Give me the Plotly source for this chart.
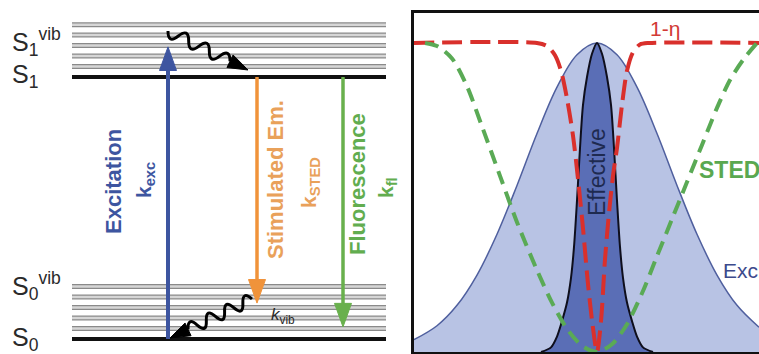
import plotly.graph_objects as go

W, H = 759, 354

# ---------------- Jablonski diagram data (energy, arbitrary units) ----------------
S0_level = 0.0
S1_level = 10.0
vib_offsets = [0.4, 0.8, 1.2, 1.6, 2.0]

# transitions: from energy, to energy
exc_from, exc_to = 0.0, 11.15
sted_from, sted_to = 10.0, 1.37
fl_from, fl_to = 10.0, 0.46

# ---------------- STED profiles (position, normalised intensity) ----------------
x_exc = [-1.83, -1.6, -1.4, -1.2, -1.0, -0.8, -0.6, -0.4, -0.2, 0.0,
         0.2, 0.4, 0.6, 0.8, 1.0, 1.2, 1.4, 1.62]
y_exc = [0.04, 0.085, 0.151, 0.249, 0.381, 0.539, 0.707, 0.857, 0.962, 1.0,
         0.962, 0.857, 0.707, 0.539, 0.381, 0.249, 0.151, 0.08]

x_eff = [-0.56, -0.46, -0.4, -0.35, -0.3, -0.26, -0.23, -0.2, -0.17, -0.14, -0.1, -0.05, 0.0,
         0.05, 0.1, 0.14, 0.17, 0.2, 0.23, 0.26, 0.3, 0.35, 0.4, 0.46, 0.56]
y_eff = [0.0, 0.015, 0.05, 0.1, 0.16, 0.24, 0.34, 0.49, 0.66, 0.8, 0.89, 0.965, 1.0,
         0.965, 0.89, 0.8, 0.66, 0.49, 0.34, 0.24, 0.16, 0.1, 0.05, 0.015, 0.0]

x_eta = [-1.83, -0.6, -0.5, -0.42, -0.36, -0.3, -0.24, -0.19, -0.14, -0.09, -0.045, 0.0,
         0.04, 0.08, 0.12, 0.16, 0.2, 0.25, 0.3, 0.36, 0.43, 0.52, 1.62]
y_eta = [1.0, 1.0, 0.99, 0.96, 0.91, 0.82, 0.7, 0.56, 0.4, 0.22, 0.09, 0.0,
         0.1, 0.3, 0.45, 0.57, 0.66, 0.8, 0.91, 0.97, 0.995, 1.0, 1.0]

x_sted = [-1.72, -1.6, -1.45, -1.3, -1.15, -0.97, -0.8, -0.6, -0.45, -0.3, -0.15, 0.0,
          0.15, 0.3, 0.45, 0.6, 0.75, 0.9, 1.05, 1.2, 1.33, 1.46, 1.6]
y_sted = [1.0, 0.99, 0.95, 0.86, 0.73, 0.57, 0.42, 0.265, 0.16, 0.075, 0.02, 0.0,
          0.025, 0.09, 0.19, 0.31, 0.43, 0.55, 0.67, 0.79, 0.88, 0.945, 1.0]

FONT = "Liberation Sans, Arial, sans-serif"
BLUE = "#3d55a0"
ORANGE = "#f0933a"
GREEN = "#69b04d"


def P(x, y):
    """pixel -> paper"""
    return x / W, 1 - y / H


fig = go.Figure()
shapes = []
annotations = []

# ---------- left: energy levels ----------
LX0, LX1 = 72, 386
gx, gy = [], []
for base in (S0_level, S1_level):
    for off in vib_offsets:
        gx += [LX0, LX1, None]
        gy += [base + off, base + off, None]
fig.add_trace(go.Scatter(x=gx, y=gy, mode="lines", line=dict(color="#8a8a8a", width=5),
                         hoverinfo="skip", showlegend=False, xaxis="x", yaxis="y"))
fig.add_trace(go.Scatter(x=gx, y=gy, mode="lines", line=dict(color="#d6d6d6", width=2.5),
                         hoverinfo="skip", showlegend=False, xaxis="x", yaxis="y"))
fig.add_trace(go.Scatter(x=[LX0, LX1, None, LX0, LX1],
                         y=[S0_level, S0_level, None, S1_level, S1_level],
                         mode="lines", line=dict(color="#111111", width=4),
                         hoverinfo="skip", showlegend=False, xaxis="x", yaxis="y"))

# straight transition arrows: shaft trace + triangular head
HEAD_E = 0.9   # head length in energy units
HEAD_W = 8.5   # head half width in x units
for xpos, e0, e1, col, w in [(168, exc_from, exc_to, BLUE, 4),
                             (257, sted_from, sted_to, ORANGE, 3.5),
                             (343, fl_from, fl_to, GREEN, 3.5)]:
    sgn = 1 if e1 > e0 else -1
    base = e1 - sgn * HEAD_E
    fig.add_trace(go.Scatter(x=[xpos, xpos], y=[e0, base + sgn * 0.1], mode="lines",
                             line=dict(color=col, width=w), hoverinfo="skip",
                             showlegend=False, xaxis="x", yaxis="y"))
    shapes.append(dict(type="path", xref="x", yref="y",
                       path=f"M {xpos},{e1} L {xpos - HEAD_W},{base} L {xpos + HEAD_W},{base} Z",
                       fillcolor=col, line=dict(color=col, width=1)))

# ---------- right: profiles ----------
fig.add_trace(go.Scatter(x=x_exc, y=y_exc, mode="lines", fill="tozeroy",
                         fillcolor="#b8c3e4", line=dict(color="#4f5f9e", width=1.5, shape="spline"),
                         hoverinfo="skip", showlegend=False, xaxis="x2", yaxis="y2"))
fig.add_trace(go.Scatter(x=x_eff, y=y_eff, mode="lines", fill="tozeroy",
                         fillcolor="#5a6eb6", line=dict(color="#0e0e1c", width=2, shape="spline", smoothing=0.8),
                         hoverinfo="skip", showlegend=False, xaxis="x2", yaxis="y2"))
fig.add_trace(go.Scatter(x=x_eta, y=y_eta, mode="lines",
                         line=dict(color="#d9302c", width=4, dash="20px,8px", shape="spline", smoothing=0.8),
                         hoverinfo="skip", showlegend=False, xaxis="x2", yaxis="y2"))
fig.add_trace(go.Scatter(x=x_sted, y=y_sted, mode="lines",
                         line=dict(color="#5aaa55", width=4, dash="14px,8px", shape="spline", smoothing=0.8),
                         hoverinfo="skip", showlegend=False, xaxis="x2", yaxis="y2"))


# ---------- texts ----------
def txt(text, x, y, size, color, bold=False, angle=0, xanchor="center"):
    px, py = P(x, y)
    t = f"<b>{text}</b>" if bold else text
    annotations.append(dict(text=t, x=px, y=py, xref="paper", yref="paper",
                            showarrow=False, textangle=angle, xanchor=xanchor, yanchor="middle",
                            font=dict(family=FONT, size=size, color=color)))


LAB = "#2a2a2a"
txt("S<sub>1</sub><sup>vib</sup>", 10, 42, 25, LAB, xanchor="left")
txt("S<sub>1</sub>", 10, 76, 25, LAB, xanchor="left")
txt("S<sub>0</sub><sup>vib</sup>", 10, 286, 25, LAB, xanchor="left")
txt("S<sub>0</sub>", 10, 339, 25, LAB, xanchor="left")

txt("Excitation", 113, 182, 22, BLUE, bold=True, angle=-90)
txt("k<sub>exc</sub>", 145, 180, 21, BLUE, bold=True, angle=-90)
txt("Stimulated Em.", 275, 180, 22, "#e9a15a", bold=True, angle=-90)
txt("k<sub>STED</sub>", 310, 183, 21, "#e9a15a", bold=True, angle=-90)
txt("Fluorescence", 357, 184, 22, "#62ad4f", bold=True, angle=-90)
txt("k<sub>fl</sub>", 387, 188, 21, "#62ad4f", bold=True, angle=-90)
txt("<i>k</i><sub>vib</sub>", 269, 316, 17, LAB, xanchor="left")

txt("1-η", 665, 28, 21, "#d23a35")
txt("STED", 697, 170, 23, "#5aa850", bold=True, xanchor="left")
txt("Excitation", 721, 270, 21, "#3c4a8c", xanchor="left")
txt("Effective", 597, 172, 23, "#1e2a50", angle=-90)


# ---------- wavy relaxation arrows ----------
def squiggle(p0, tip, n_half, amp, head_len=20, head_w=7):
    x0, y0 = p0
    tx, ty = tip
    dx, dy = tx - x0, ty - y0
    L = (dx * dx + dy * dy) ** 0.5
    ux, uy = dx / L, dy / L
    nx, ny = -uy, ux
    ex, ey = tx - ux * head_len, ty - uy * head_len
    wl = L - head_len
    path = "M {:.5f},{:.5f}".format(*P(x0, y0))
    for i in range(n_half):
        a = i / n_half * wl
        b = (i + 1) / n_half * wl
        m = (a + b) / 2
        s = 1 if i % 2 == 0 else -1
        cx = x0 + ux * m + nx * 2 * amp * s
        cy = y0 + uy * m + ny * 2 * amp * s
        bx = x0 + ux * b
        by = y0 + uy * b
        path += " Q {:.5f},{:.5f} {:.5f},{:.5f}".format(*P(cx, cy), *P(bx, by))
    shapes.append(dict(type="path", path=path, xref="paper", yref="paper",
                       line=dict(color="#000000", width=3)))
    h1 = P(ex + nx * head_w, ey + ny * head_w)
    h2 = P(ex - nx * head_w, ey - ny * head_w)
    t = P(tx, ty)
    hp = "M {:.5f},{:.5f} L {:.5f},{:.5f} L {:.5f},{:.5f} Z".format(*h1, *t, *h2)
    shapes.append(dict(type="path", path=hp, xref="paper", yref="paper",
                       fillcolor="#000000", line=dict(color="#000000", width=1)))


squiggle((168, 31), (248, 70), 6, 6)
squiggle((252, 299), (170, 338), 7, 6)

hidden = dict(visible=False, showgrid=False, zeroline=False, fixedrange=True)
fig.update_layout(
    width=W, height=H,
    margin=dict(l=0, r=0, t=0, b=0, pad=0),
    paper_bgcolor="white", plot_bgcolor="white",
    xaxis=dict(domain=[0, 410 / W], range=[0, 410], **hidden),
    yaxis=dict(domain=[0, 1], range=[-0.573, 12.94], **hidden),
    xaxis2=dict(domain=[414 / W, 1], range=[-1.83, 1.62], anchor="y2",
                showline=True, mirror=True, linecolor="#111111", linewidth=2.5,
                showgrid=False, zeroline=False, showticklabels=False, ticks=""),
    yaxis2=dict(domain=[1 - 352 / H, 1 - 13 / H], range=[0, 1.097], anchor="x2",
                showline=True, mirror=False, linecolor="#111111", linewidth=2.5,
                showgrid=False, zeroline=False, showticklabels=False, ticks=""),
    annotations=annotations,
    shapes=shapes,
    showlegend=False,
)

fig.write_html("out.html", config={"displayModeBar": False},
               post_script="document.body.style.margin='0';")
